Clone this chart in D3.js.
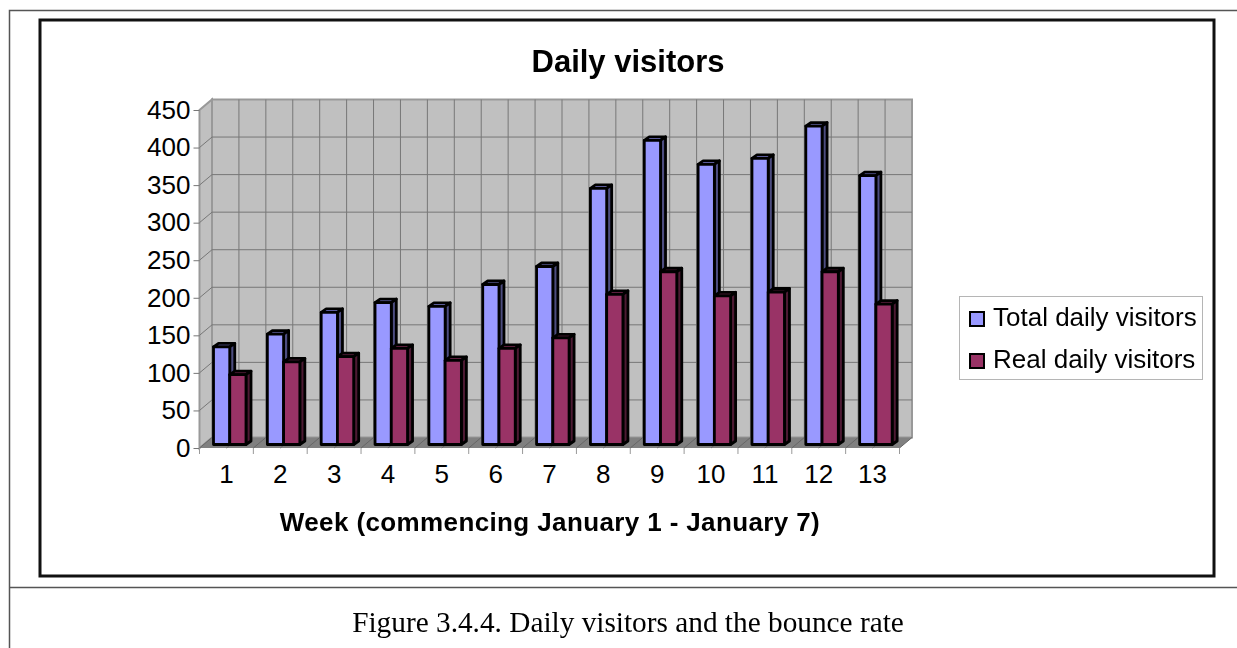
<!DOCTYPE html>
<html>
<head>
<meta charset="utf-8">
<script src="https://cdnjs.cloudflare.com/ajax/libs/d3/7.8.5/d3.min.js"></script>
<style>
  html, body { margin: 0; padding: 0; background: #fff; }
  svg { display: block; filter: blur(0.4px); }
  text { font-family: "Liberation Sans", Arial, sans-serif; fill: #000; }
  .axis path { display: none; }
  .axis text { font-size: 26px; font-family: "Liberation Sans", Arial, sans-serif; }
</style>
</head>
<body>
<div id="chart"></div>
<script>
const weeks = ['1', '2', '3', '4', '5', '6', '7', '8', '9', '10', '11', '12', '13'];
const seriesNames = ['Total daily visitors', 'Real daily visitors'];
const totalVisitors = [130, 147, 176, 189, 184, 213, 237, 341, 405, 373, 381, 424, 358];
const realVisitors = [93, 110, 117, 128, 112, 128, 142, 200, 230, 198, 203, 230, 187];
const yTicks = [0, 50, 100, 150, 200, 250, 300, 350, 400, 450];

const colors = [
  { front: '#9999ff', side: '#4d4d80', top: '#7a7acc' },
  { front: '#993366', side: '#4d1a33', top: '#7a2952' },
];

const width = 1237;
const height = 648;
const plot = { left: 199.5, right: 899.5, top: 110, bottom: 448 };
// depth of the box and of a single bar
const depth = { x: 12.5, y: -10.5 };
const barDepth = { x: 5, y: -3.5 };

const svg = d3.select('#chart').append('svg')
  .attr('width', width)
  .attr('height', height);

// page frame
const frameColor = '#555';
svg.append('path')
  .attr('d', 'M9.5,648V10.5H1237M9.5,587.5H1237')
  .attr('fill', 'none')
  .attr('stroke', frameColor)
  .attr('stroke-width', 1.5);
svg.append('rect')
  .attr('x', 40)
  .attr('y', 20)
  .attr('width', 1174)
  .attr('height', 556)
  .attr('fill', '#fff')
  .attr('stroke', '#111')
  .attr('stroke-width', 3);

const x = d3.scaleBand()
  .domain(weeks)
  .range([plot.left, plot.right]);
const y = d3.scaleLinear()
  .domain([0, 450])
  .range([plot.bottom, plot.top]);
const xSeries = d3.scaleBand()
  .domain(seriesNames)
  .range([14, 46.5]);

const poly = (pts) => pts.map((p) => p.join(',')).join(' ');

// walls and floor
const wallStroke = '#999';
svg.append('polygon')
  .attr('points', poly([
    [plot.left, plot.top],
    [plot.left + depth.x, plot.top + depth.y],
    [plot.left + depth.x, plot.bottom + depth.y],
    [plot.left, plot.bottom],
  ]))
  .attr('fill', '#c0c0c0')
  .attr('stroke', wallStroke)
  .attr('stroke-width', 2);
svg.append('rect')
  .attr('x', plot.left + depth.x)
  .attr('y', plot.top + depth.y)
  .attr('width', plot.right - plot.left)
  .attr('height', plot.bottom - plot.top)
  .attr('fill', '#c0c0c0')
  .attr('stroke', wallStroke)
  .attr('stroke-width', 2);
svg.append('polygon')
  .attr('points', poly([
    [plot.left, plot.bottom],
    [plot.left + depth.x, plot.bottom + depth.y],
    [plot.right + depth.x, plot.bottom + depth.y],
    [plot.right, plot.bottom],
  ]))
  .attr('fill', '#808080');

// grid: the verticals fall on every half band
const gridX = [];
weeks.forEach((week) => {
  gridX.push(x(week), x(week) + x.bandwidth() / 2);
});
gridX.push(plot.right);

const grid = svg.append('g')
  .attr('stroke', '#777')
  .attr('stroke-width', 1);
grid.selectAll('path.h')
  .data(yTicks.slice(1, -1))
  .enter()
  .append('path')
  .attr('class', 'h')
  .attr('fill', 'none')
  .attr('d', (d) => `M${plot.left},${y(d)}l${depth.x},${depth.y}H${plot.right + depth.x}`);
grid.selectAll('line.v')
  .data(gridX.slice(1, -1))
  .enter()
  .append('line')
  .attr('class', 'v')
  .attr('x1', (d) => d + depth.x)
  .attr('x2', (d) => d + depth.x)
  .attr('y1', plot.top + depth.y)
  .attr('y2', plot.bottom + depth.y);
grid.selectAll('line.f')
  .data(gridX)
  .enter()
  .append('line')
  .attr('class', 'f')
  .attr('stroke', '#666')
  .attr('x1', (d) => d)
  .attr('x2', (d) => d + depth.x)
  .attr('y1', plot.bottom)
  .attr('y2', plot.bottom + depth.y);

// bars, blue first so the maroon one sits over its side
const bars = svg.append('g');
weeks.forEach((week, i) => {
  [totalVisitors, realVisitors].forEach((values, s) => {
    const x0 = x(week) + xSeries(seriesNames[s]);
    const x1 = x0 + xSeries.bandwidth();
    const yTop = y(values[i]) + barDepth.y;
    const yBase = plot.bottom + barDepth.y;
    const g = bars.append('g')
      .attr('stroke', '#000')
      .attr('stroke-width', 2.8)
      .attr('stroke-linejoin', 'round');
    g.append('polygon')
      .attr('fill', colors[s].top)
      .attr('points', poly([
        [x0, yTop],
        [x0 + barDepth.x, yTop + barDepth.y],
        [x1 + barDepth.x, yTop + barDepth.y],
        [x1, yTop],
      ]));
    g.append('polygon')
      .attr('fill', colors[s].side)
      .attr('points', poly([
        [x1, yTop],
        [x1 + barDepth.x, yTop + barDepth.y],
        [x1 + barDepth.x, yBase + barDepth.y],
        [x1, yBase],
      ]));
    g.append('rect')
      .attr('fill', colors[s].front)
      .attr('x', x0)
      .attr('y', yTop)
      .attr('width', x1 - x0)
      .attr('height', yBase - yTop);
  });
});

// axes
const yAxis = svg.append('g')
  .attr('class', 'axis')
  .attr('transform', `translate(${plot.left},0)`)
  .call(d3.axisLeft(y).tickValues(yTicks).tickSize(6).tickPadding(3));
yAxis.selectAll('line').attr('stroke', '#777');

const xAxis = svg.append('g')
  .attr('class', 'axis')
  .attr('transform', `translate(0,${plot.bottom})`)
  .call(d3.axisBottom(x).tickSize(0).tickPadding(17));
svg.append('g')
  .attr('stroke', '#999')
  .selectAll('line')
  .data(weeks.concat(['end']))
  .enter()
  .append('line')
  .attr('x1', (d) => (d === 'end' ? plot.right : x(d)))
  .attr('x2', (d) => (d === 'end' ? plot.right : x(d)))
  .attr('y1', plot.bottom)
  .attr('y2', plot.bottom + 6);

// titles
svg.append('text')
  .attr('x', 628)
  .attr('y', 72)
  .attr('text-anchor', 'middle')
  .attr('font-size', 31)
  .attr('font-weight', 'bold')
  .text('Daily visitors');
svg.append('text')
  .attr('x', 550)
  .attr('y', 531)
  .attr('text-anchor', 'middle')
  .attr('font-size', 26)
  .attr('font-weight', 'bold')
  .attr('letter-spacing', 0.38)
  .text('Week (commencing January 1 - January 7)');
svg.append('text')
  .attr('x', 628)
  .attr('y', 632)
  .attr('text-anchor', 'middle')
  .attr('font-size', 29.3)
  .style('font-family', '"Liberation Serif", "Times New Roman", serif')
  .text('Figure 3.4.4. Daily visitors and the bounce rate');

// legend
const legend = svg.append('g');
legend.append('rect')
  .attr('x', 959.5)
  .attr('y', 296.5)
  .attr('width', 243)
  .attr('height', 83)
  .attr('fill', '#fff')
  .attr('stroke', '#b5b5b5')
  .attr('stroke-width', 1);
const legendRows = [326, 368];
seriesNames.forEach((name, i) => {
  legend.append('rect')
    .attr('x', 970)
    .attr('y', legendRows[i] - 14)
    .attr('width', 14)
    .attr('height', 14)
    .attr('fill', colors[i].front)
    .attr('stroke', '#000')
    .attr('stroke-width', 2);
  legend.append('text')
    .attr('x', 993)
    .attr('y', legendRows[i])
    .attr('font-size', 26)
    .text(name);
});
</script>
</body>
</html>
